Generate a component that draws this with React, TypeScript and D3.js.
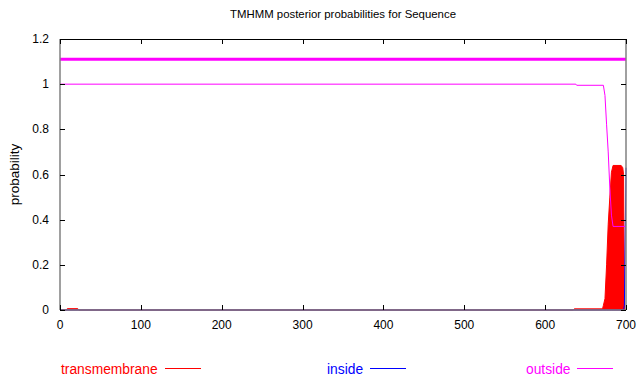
import React, { useEffect, useRef } from 'react';
import * as d3 from 'd3';

// posterior probability curves as (residue, probability) points
const tmPos = [0, 8, 9, 22, 23, 635, 636, 671, 672, 674, 676, 678, 680, 682, 684, 694, 696, 697, 698, 700];
const tmVal = [0, 0, 0.006, 0.006, 0, 0, 0.005, 0.005, 0.02, 0.05, 0.2, 0.38, 0.5, 0.61, 0.64, 0.64, 0.63, 0.6, 0, 0];

const insidePos = [0, 697, 698, 700];
const insideVal = [0, 0, 0.02, 0.63];

const outsidePos = [0, 638, 639, 672, 674, 676, 678, 680, 682, 684, 700];
const outsideVal = [1, 1, 0.995, 0.995, 0.95, 0.82, 0.7, 0.54, 0.42, 0.37, 0.37];

// predicted topology bar drawn above the curves
const topoStart = [0];
const topoEnd = [700];
const topoLevel = 1.11;

const xTicks = [0, 100, 200, 300, 400, 500, 600, 700];
const yTicks = [0, 0.2, 0.4, 0.6, 0.8, 1, 1.2];

const legendLabels = ['transmembrane', 'inside', 'outside'];
const legendColors = ['#ff0000', '#0000ff', '#ff00ff'];

const W = 637;
const H = 378;
const margin = { top: 39, right: 11, bottom: 68, left: 60 };
const FONT = 'Liberation Sans, Arial, sans-serif';

const App: React.FC = () => {
  const svgRef = useRef<SVGSVGElement | null>(null);

  useEffect(() => {
    const svg = d3.select(svgRef.current);
    svg.selectAll('*').remove();

    const x = d3.scaleLinear().domain([0, 700]).range([margin.left, W - margin.right]);
    const y = d3.scaleLinear().domain([0, 1.2]).range([H - margin.bottom, margin.top]);

    const toPts = (pos: number[], val: number[]) => pos.map((p, i) => [p, val[i]] as [number, number]);

    // title
    svg.append('text')
      .attr('x', (x(0) + x(700)) / 2)
      .attr('y', 18)
      .attr('text-anchor', 'middle')
      .attr('font-family', FONT)
      .attr('font-size', 11.4)
      .text('TMHMM posterior probabilities for Sequence');

    // y label
    svg.append('text')
      .attr('transform', `translate(19,${(y(0) + y(1.2)) / 2}) rotate(-90)`)
      .attr('text-anchor', 'middle')
      .attr('font-family', FONT)
      .attr('font-size', 13.5)
      .text('probability');

    // transmembrane, filled like impulses
    svg.append('path')
      .datum(toPts(tmPos, tmVal))
      .attr('fill', '#ff0000')
      .attr('stroke', '#ff0000')
      .attr('stroke-width', 1)
      .attr('d', d3.area<[number, number]>()
        .x(d => x(d[0]))
        .y0(y(0))
        .y1(d => y(d[1])));

    const line = d3.line<[number, number]>().x(d => x(d[0])).y(d => y(d[1]));

    svg.append('path')
      .datum(toPts(insidePos, insideVal))
      .attr('fill', 'none')
      .attr('stroke', '#0000ff')
      .attr('stroke-width', 1)
      .attr('d', line);

    svg.append('path')
      .datum(toPts(outsidePos, outsideVal))
      .attr('fill', 'none')
      .attr('stroke', '#ff00ff')
      .attr('stroke-width', 1)
      .attr('d', line);

    // topology bar
    svg.append('g')
      .selectAll('line')
      .data(topoStart)
      .join('line')
      .attr('x1', d => x(d))
      .attr('x2', (d, i) => x(topoEnd[i]))
      .attr('y1', y(topoLevel))
      .attr('y2', y(topoLevel))
      .attr('stroke', '#ff00ff')
      .attr('stroke-width', 3);

    // frame
    const x0 = x(0), x1 = x(700), y0 = y(0), y1 = y(1.2);
    svg.append('line').attr('x1', x0).attr('x2', x1).attr('y1', y1 + 0.5).attr('y2', y1 + 0.5)
      .attr('stroke', '#000');
    [[x0, y0, x0, y1], [x1, y0, x1, y1], [x0, y0, x1, y0]].forEach(([a, b, c, d]) => {
      svg.append('line').attr('x1', a).attr('y1', b).attr('x2', c).attr('y2', d)
        .attr('stroke', '#808080').attr('stroke-width', 1.5);
    });

    // ticks, pointing inward on all four sides
    const tk = 5;
    xTicks.forEach(t => {
      const px = Math.round(x(t)) + 0.5;
      svg.append('line').attr('x1', px).attr('x2', px).attr('y1', y0).attr('y2', y0 - tk).attr('stroke', '#000');
      svg.append('line').attr('x1', px).attr('x2', px).attr('y1', y1).attr('y2', y1 + tk).attr('stroke', '#000');
      svg.append('text')
        .attr('x', x(t))
        .attr('y', y0 + 19)
        .attr('text-anchor', 'middle')
        .attr('font-family', FONT)
        .attr('font-size', 12)
        .text(t);
    });
    yTicks.forEach(t => {
      const py = Math.round(y(t)) + 0.5;
      svg.append('line').attr('x1', x0).attr('x2', x0 + tk).attr('y1', py).attr('y2', py).attr('stroke', '#000');
      svg.append('line').attr('x1', x1).attr('x2', x1 - tk).attr('y1', py).attr('y2', py).attr('stroke', '#000');
      svg.append('text')
        .attr('x', x0 - 11)
        .attr('y', y(t) + 4)
        .attr('text-anchor', 'end')
        .attr('font-family', FONT)
        .attr('font-size', 12)
        .text(String(t));
    });

    // legend
    const legendX = [61, 327, 526];
    const legendLineX = [165, 370, 577];
    legendLabels.forEach((lab, i) => {
      svg.append('text')
        .attr('x', legendX[i])
        .attr('y', 373.5)
        .attr('font-family', FONT)
        .attr('font-size', 13.8)
        .attr('fill', legendColors[i])
        .text(lab);
      svg.append('line')
        .attr('x1', legendLineX[i])
        .attr('x2', legendLineX[i] + 36)
        .attr('y1', 368.5)
        .attr('y2', 368.5)
        .attr('stroke', legendColors[i]);
    });
  }, []);

  return (
    <svg
      ref={svgRef}
      width={W}
      height={H}
      style={{ position: 'absolute', left: 0, top: 0, background: '#fff' }}
    />
  );
};

export default App;
